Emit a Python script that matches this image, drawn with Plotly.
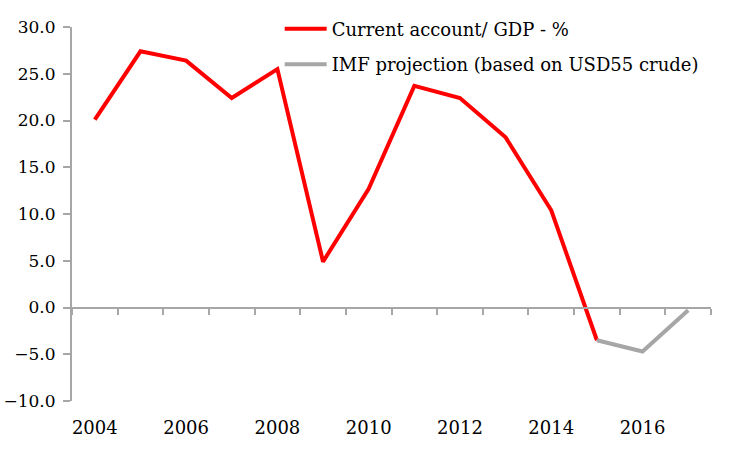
import plotly.graph_objects as go

years = [2004, 2005, 2006, 2007, 2008, 2009, 2010, 2011, 2012, 2013, 2014, 2015]
current_account = [20.1, 27.4, 26.4, 22.4, 25.5, 4.9, 12.7, 23.7, 22.4, 18.2, 10.4, -3.5]
proj_years = [2015, 2016, 2017]
imf_projection = [-3.5, -4.7, -0.3]
tick_years = [2004, 2006, 2008, 2010, 2012, 2014, 2016]

font = "DejaVu Serif"
axis_grey = "#a6a6a6"

fig = go.Figure()
fig.add_trace(go.Scatter(x=years, y=current_account, mode="lines",
                         name="Current account/ GDP - %",
                         line=dict(color="#ff0000", width=4), legendgroup="a"))
fig.add_trace(go.Scatter(x=proj_years, y=imf_projection, mode="lines",
                         name="IMF projection (based on USD55 crude)",
                         line=dict(color=axis_grey, width=4), legendgroup="b"))

fig.update_layout(
    width=753, height=450,
    margin=dict(l=72, r=42, t=27, b=49, autoexpand=False),
    paper_bgcolor="white", plot_bgcolor="white",
    font=dict(family=font, size=18, color="#000000"),
    legend=dict(x=0.325, y=1.044, xanchor="left", yanchor="top",
                bgcolor="rgba(0,0,0,0)", tracegroupgap=9, itemwidth=42,
                traceorder="grouped", font=dict(size=18)),
    xaxis=dict(range=[2003.5, 2017.5], tickvals=tick_years, showgrid=False,
               zeroline=False, showline=False, ticks="outside", ticklen=10,
               tickcolor="rgba(0,0,0,0)", automargin=False),
    # second x axis only draws the line with its ticks at y = 0
    xaxis2=dict(range=[2003.5, 2017.5], overlaying="x", anchor="free", position=0.25,
                side="bottom", showline=True, linecolor=axis_grey, linewidth=2,
                ticks="outside", ticklen=6, tickcolor=axis_grey, tickwidth=2,
                tick0=2003.5, dtick=1, showticklabels=False, showgrid=False,
                zeroline=False, automargin=False),
    yaxis=dict(range=[-10, 30], dtick=5, tickformat=".1f", showgrid=False,
               zeroline=False, showline=True, linecolor=axis_grey, linewidth=2,
               ticks="outside", ticklen=7, tickcolor=axis_grey, tickwidth=2,
               ticklabelstandoff=4, tickfont=dict(size=17), automargin=False),
)
# invisible trace to make the second axis show
fig.add_trace(go.Scatter(x=[2004], y=[None], xaxis="x2", showlegend=False,
                         hoverinfo="skip"))

# drop the default body margin so the figure sits at the page corner
fig.write_html("out.html", config={"displayModeBar": False},
               post_script="document.body.style.margin='0';")
